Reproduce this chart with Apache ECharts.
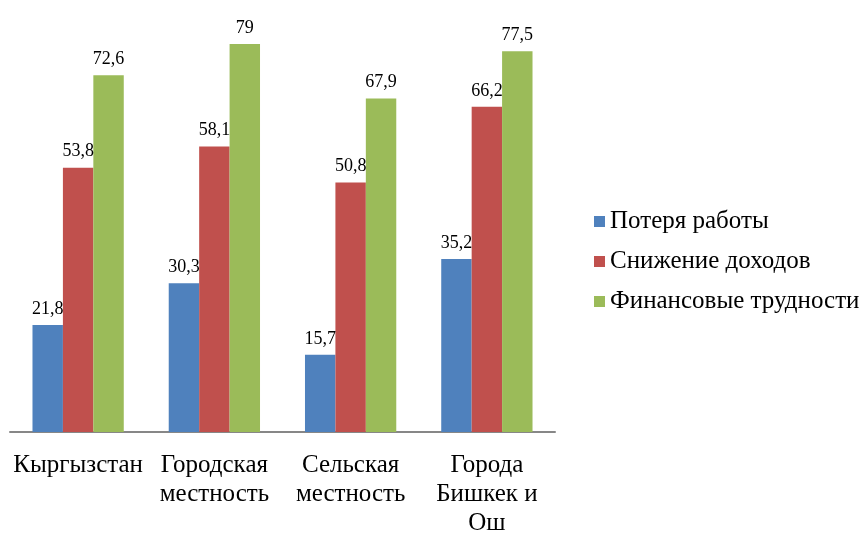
<!DOCTYPE html>
<html><head><meta charset="utf-8">
<script src="https://cdn.jsdelivr.net/npm/echarts@6/dist/echarts.min.js"></script>
<style>html,body{margin:0;padding:0;background:#fff}#c{width:868px;height:533px}</style>
</head><body><div id="c"></div>
<script>
var categories = ['Кыргызстан', 'Городская\nместность', 'Сельская\nместность', 'Города\nБишкек и\nОш'];
var seriesNames = ['Потеря работы', 'Снижение доходов', 'Финансовые трудности'];
var jobLoss = [21.8, 30.3, 15.7, 35.2];
var incomeDrop = [53.8, 58.1, 50.8, 66.2];
var financial = [72.6, 79, 67.9, 77.5];
var colors = ['#4F81BD', '#C0504D', '#9BBB59'];
var font = '"Liberation Serif", "Times New Roman", serif';
function fmt(p){ return String(p.value).replace('.', ','); }
var data = [jobLoss, incomeDrop, financial];
var chart = echarts.init(document.getElementById('c'));
chart.setOption({
  animation: false,
  textStyle: { fontFamily: font },
  grid: { left: 10, right: 313, top: 39, bottom: 101, containLabel: false, outerBoundsMode: 'none' },
  legend: {
    orient: 'vertical', left: 589, top: 204, itemWidth: 11, itemHeight: 11, itemGap: 15,
    icon: 'rect',
    textStyle: { fontFamily: font, fontSize: 25, color: '#000' },
    data: seriesNames
  },
  xAxis: {
    type: 'category', data: categories,
    axisLine: { lineStyle: { color: '#878787', width: 2 } },
    axisTick: { show: false },
    axisLabel: { fontFamily: font, fontSize: 25, color: '#000', margin: 19, lineHeight: 29, interval: 0 }
  },
  yAxis: { type: 'value', min: 0, max: 80, show: false, splitLine: { show: false } },
  series: seriesNames.map(function(n, i){
    return {
      name: n, type: 'bar', data: data[i], barGap: '0%', barCategoryGap: '33%',
      itemStyle: { color: colors[i] },
      label: { show: true, position: 'top', distance: 7, formatter: fmt, fontFamily: font, fontSize: 18, color: '#000' }
    };
  })
});
</script></body></html>
